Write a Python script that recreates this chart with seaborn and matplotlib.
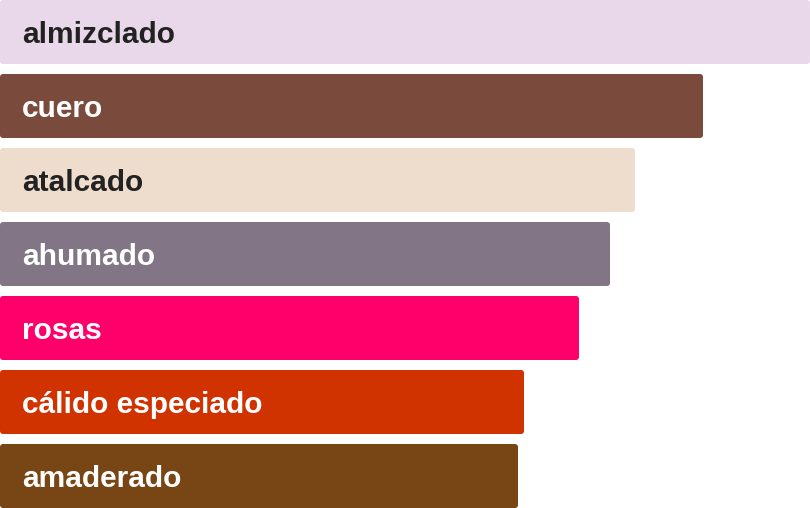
import numpy as np
import matplotlib.pyplot as plt
import seaborn as sns
import pandas as pd
from matplotlib.patches import FancyBboxPatch

categories = ['almizclado', 'cuero', 'atalcado', 'ahumado', 'rosas', 'cálido especiado', 'amaderado']
values = [810, 703, 635, 610, 579, 524, 518]
colors = ['#E8D8EA', '#7A4A3C', '#EEDCCC', '#827686', '#FF006A', '#D03200', '#774614']
text_colors = ['#222222', '#FFFFFF', '#222222', '#FFFFFF', '#FFFFFF', '#FFFFFF', '#FFFFFF']

sns.set_style('white')
plt.rcParams['font.family'] = ['Liberation Sans', 'DejaVu Sans']

df = pd.DataFrame({'cat': categories, 'val': values})

fig = plt.figure(figsize=(8.1, 5.08), dpi=100)
ax = fig.add_axes([0, 0, 1, 1])
sns.barplot(data=df, x='val', y='cat', hue='cat', palette=colors, legend=False,
            width=64 / 74, saturation=1, ax=ax, orient='h', linewidth=0)

# swap the square bars for slightly rounded ones
for p in list(ax.patches):
    x, y = p.get_x(), p.get_y()
    w, h = p.get_width(), p.get_height()
    fb = FancyBboxPatch((x, y), w, h, boxstyle='round,pad=0,rounding_size=3',
                        mutation_aspect=1 / 74, facecolor=p.get_facecolor(),
                        edgecolor='none', linewidth=0)
    p.remove()
    ax.add_patch(fb)

for i, (cat, tc) in enumerate(zip(categories, text_colors)):
    ax.text(22, i + 0.045, cat, color=tc, fontsize=21.5, fontweight='bold', va='center', ha='left')

ax.set_xlim(0, 810)
ax.set_ylim(6 + 32 / 74, -32 / 74)
ax.axis('off')
plt.savefig('out.png', dpi=100)
